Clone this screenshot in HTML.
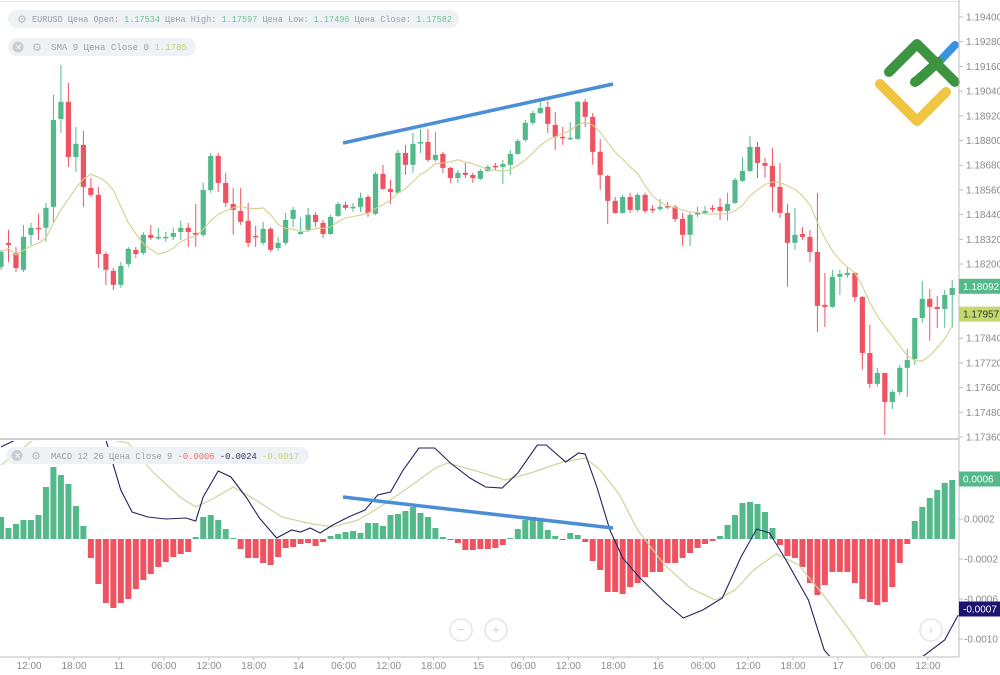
<!DOCTYPE html>
<html><head><meta charset="utf-8"><title>EURUSD chart</title>
<style>
html,body{margin:0;padding:0;background:#fff;width:1000px;height:675px;overflow:hidden;}
svg{display:block;font-family:"Liberation Sans",sans-serif;}
</style></head>
<body>
<svg id="chart" width="1000" height="675" viewBox="0 0 1000 675" xmlns="http://www.w3.org/2000/svg">
  <rect x="0" y="0" width="1000" height="675" fill="#fff"/>
  <line x1="0" y1="1.5" x2="959" y2="1.5" stroke="#e3e3e3" stroke-width="1"/>
  <g id="priceAxis"></g>
  <g id="macdAxis"></g>
  <g id="timeAxis"></g>
  <defs>
    <clipPath id="priceClip"><rect x="0" y="3" width="959" height="435"/></clipPath>
    <clipPath id="macdClip"><rect x="0" y="441" width="959" height="215"/></clipPath>
  </defs>
  <g id="logo">
    <polyline points="880,84 917,121 946,92" fill="none" stroke="#f0c542" stroke-width="10" stroke-linecap="round" stroke-linejoin="round"/>
    <line x1="938" y1="63" x2="955" y2="45" stroke="#3a93e0" stroke-width="8" stroke-linecap="round"/>
    <polyline points="889,72 917,44 955,82" fill="none" stroke="#3c9440" stroke-width="10" stroke-linecap="round" stroke-linejoin="round"/>
    <polyline points="915,82 918,80 938,62" fill="none" stroke="#3c9440" stroke-width="10" stroke-linecap="round"/>
  </g>
  <g clip-path="url(#priceClip)">
    <g id="candles"></g>
    <path id="smaLine" fill="none" stroke="#d6cf8c" stroke-width="1.1"/>
  </g>
  <g clip-path="url(#macdClip)">
    <g id="hist"></g>
    <path id="signalLine" fill="none" stroke="#cfd49a" stroke-width="1.2"/>
    <path id="macdLine" fill="none" stroke="#23235e" stroke-width="1.1"/>
  </g>
  <line x1="343" y1="143" x2="613" y2="84" stroke="#4a8fd6" stroke-width="3.5"/>
  <line x1="343" y1="497" x2="613" y2="528" stroke="#4a8fd6" stroke-width="3.5"/>
  <line x1="0" y1="439" x2="959" y2="439" stroke="#cfcfcf" stroke-width="2"/>
  <line x1="959" y1="0" x2="959" y2="657" stroke="#bdbdbd" stroke-width="1"/>
  <line x1="0" y1="657" x2="959" y2="657" stroke="#bdbdbd" stroke-width="1"/>

  <g>
    <rect x="8" y="10" width="451" height="18" rx="9" fill="#eff2f5"/>
    <text x="17" y="23" font-size="11" fill="#bbb">⚙</text>
    <text x="32" y="22" font-size="9.5" fill="#9aa0a6" textLength="420" lengthAdjust="spacingAndGlyphs" font-family="'Liberation Mono','Noto Sans CJK SC',monospace">EURUSD Цена Open: <tspan fill="#6fbf95">1.17534</tspan> Цена High: <tspan fill="#6fbf95">1.17597</tspan> Цена Low: <tspan fill="#6fbf95">1.17496</tspan> Цена Close: <tspan fill="#6fbf95">1.17582</tspan></text>
  </g>
  <g>
    <rect x="8" y="38" width="188" height="18" rx="9" fill="#eff2f5"/>
    <circle cx="18" cy="47" r="5.5" fill="#c9cdd1"/>
    <text x="15.2" y="50" font-size="8" fill="#fff">✕</text>
    <text x="32" y="51" font-size="11" fill="#bbb">⚙</text>
    <text x="51" y="50" font-size="9.5" fill="#9aa0a6" textLength="136" lengthAdjust="spacingAndGlyphs" font-family="'Liberation Mono','Noto Sans CJK SC',monospace">SMA 9 Цена Close 0  <tspan fill="#c5d36c">1.1785</tspan></text>
  </g>
  <g>
    <rect x="6" y="447" width="303" height="17" rx="8.5" fill="#eff2f5"/>
    <circle cx="17" cy="455.5" r="5.5" fill="#c9cdd1"/>
    <text x="14.2" y="458.5" font-size="8" fill="#fff">✕</text>
    <text x="31" y="459.5" font-size="11" fill="#bbb">⚙</text>
    <text x="51" y="459" font-size="9.5" fill="#9aa0a6" textLength="248" lengthAdjust="spacingAndGlyphs" font-family="'Liberation Mono','Noto Sans CJK SC',monospace">MACD 12 26 Цена Close 9  <tspan fill="#e57373">-0.0006</tspan> <tspan fill="#33335f">-0.0024</tspan> <tspan fill="#c5d36c">-0.0017</tspan></text>
  </g>

  <g><circle cx="461" cy="630" r="11" fill="#fff" stroke="#e4e4e4" stroke-width="1.5"/><text x="461" y="634" font-size="13" fill="#cfcfcf" text-anchor="middle">−</text></g>
  <g><circle cx="496" cy="630" r="11" fill="#fff" stroke="#e4e4e4" stroke-width="1.5"/><text x="496" y="634" font-size="13" fill="#cfcfcf" text-anchor="middle">+</text></g>
  <g><circle cx="931" cy="630" r="11" fill="#fff" stroke="#e4e4e4" stroke-width="1.5"/><text x="931" y="634" font-size="12" fill="#cfcfcf" text-anchor="middle">›</text></g>

  <g id="markers"></g>
</svg>
<script>
const openP=[1.18186,1.18303,1.18254,1.18172,1.18342,1.18376,1.18376,1.18478,1.18905,1.18988,1.18720,1.18779,1.18570,1.18536,1.18249,1.18167,1.18099,1.18201,1.18269,1.18254,1.18342,1.18327,1.18327,1.18332,1.18356,1.18376,1.18351,1.18342,1.18560,1.18725,1.18594,1.18492,1.18458,1.18410,1.18337,1.18303,1.18371,1.18278,1.18303,1.18419,1.18346,1.18366,1.18439,1.18400,1.18346,1.18434,1.18487,1.18473,1.18478,1.18526,1.18444,1.18638,1.18565,1.18546,1.18740,1.18682,1.18788,1.18793,1.18706,1.18735,1.18667,1.18618,1.18643,1.18633,1.18614,1.18652,1.18677,1.18672,1.18682,1.18735,1.18803,1.18886,1.18934,1.18963,1.18876,1.18818,1.18808,1.18808,1.18988,1.18915,1.18745,1.18628,1.18507,1.18448,1.18526,1.18463,1.18536,1.18468,1.18468,1.18482,1.18478,1.18419,1.18342,1.18444,1.18448,1.18473,1.18478,1.18458,1.18497,1.18604,1.18652,1.18769,1.18691,1.18677,1.18575,1.18448,1.18303,1.18346,1.18332,1.18259,1.18002,1.17992,1.18138,1.18147,1.18157,1.18040,1.17768,1.17618,1.17671,1.17530,1.17579,1.17696,1.17739,1.17938,1.18031,1.17992,1.17982,1.18050];
const highP=[1.18269,1.18366,1.18283,1.18390,1.18400,1.18444,1.18497,1.19022,1.19167,1.19080,1.18866,1.18847,1.18618,1.18575,1.18259,1.18181,1.18210,1.18283,1.18283,1.18356,1.18390,1.18376,1.18356,1.18376,1.18410,1.18400,1.18492,1.18594,1.18740,1.18740,1.18643,1.18570,1.18570,1.18497,1.18385,1.18405,1.18380,1.18332,1.18448,1.18478,1.18429,1.18473,1.18453,1.18414,1.18439,1.18502,1.18502,1.18497,1.18546,1.18536,1.18648,1.18682,1.18609,1.18754,1.18779,1.18837,1.18856,1.18856,1.18842,1.18745,1.18672,1.18657,1.18691,1.18643,1.18662,1.18682,1.18691,1.18706,1.18754,1.18808,1.18900,1.18944,1.18988,1.18992,1.18939,1.18866,1.18890,1.18992,1.19002,1.18934,1.18808,1.18633,1.18526,1.18536,1.18546,1.18546,1.18546,1.18487,1.18516,1.18502,1.18487,1.18448,1.18448,1.18478,1.18482,1.18487,1.18521,1.18546,1.18618,1.18720,1.18822,1.18793,1.18716,1.18764,1.18691,1.18492,1.18473,1.18380,1.18366,1.18546,1.18157,1.18172,1.18172,1.18186,1.18162,1.18045,1.17904,1.17696,1.17671,1.17589,1.17710,1.17788,1.17938,1.18118,1.18079,1.18045,1.18074,1.18123];
const lowP=[1.18172,1.18210,1.18162,1.18162,1.18293,1.18317,1.18308,1.18400,1.18837,1.18672,1.18648,1.18478,1.18526,1.18181,1.18099,1.18074,1.18084,1.18186,1.18230,1.18244,1.18317,1.18317,1.18308,1.18317,1.18317,1.18283,1.18283,1.18332,1.18546,1.18550,1.18478,1.18342,1.18390,1.18283,1.18283,1.18293,1.18259,1.18264,1.18293,1.18380,1.18342,1.18356,1.18380,1.18327,1.18342,1.18429,1.18463,1.18453,1.18453,1.18429,1.18439,1.18560,1.18492,1.18541,1.18633,1.18643,1.18740,1.18696,1.18696,1.18643,1.18594,1.18594,1.18618,1.18594,1.18609,1.18648,1.18657,1.18589,1.18633,1.18730,1.18793,1.18876,1.18929,1.18837,1.18754,1.18779,1.18803,1.18803,1.18866,1.18682,1.18560,1.18395,1.18444,1.18444,1.18448,1.18453,1.18448,1.18448,1.18458,1.18468,1.18405,1.18288,1.18288,1.18429,1.18444,1.18453,1.18414,1.18410,1.18492,1.18599,1.18648,1.18618,1.18618,1.18453,1.18424,1.18089,1.18269,1.18317,1.18210,1.17870,1.17895,1.17987,1.18050,1.18133,1.18016,1.17686,1.17598,1.17603,1.17370,1.17496,1.17564,1.17555,1.17710,1.17914,1.17827,1.17890,1.17890,1.17890];
const closeP=[1.18259,1.18293,1.18181,1.18332,1.18376,1.18371,1.18473,1.18900,1.18988,1.18720,1.18784,1.18575,1.18536,1.18249,1.18172,1.18099,1.18191,1.18274,1.18249,1.18342,1.18327,1.18332,1.18332,1.18351,1.18376,1.18356,1.18342,1.18560,1.18725,1.18594,1.18497,1.18463,1.18405,1.18303,1.18332,1.18371,1.18269,1.18303,1.18414,1.18463,1.18356,1.18439,1.18405,1.18346,1.18429,1.18492,1.18473,1.18478,1.18521,1.18448,1.18638,1.18565,1.18550,1.18740,1.18682,1.18784,1.18793,1.18706,1.18730,1.18667,1.18618,1.18643,1.18633,1.18618,1.18652,1.18672,1.18672,1.18686,1.18735,1.18798,1.18886,1.18934,1.18958,1.18881,1.18818,1.18813,1.18813,1.18988,1.18915,1.18745,1.18633,1.18507,1.18448,1.18526,1.18463,1.18536,1.18458,1.18463,1.18478,1.18478,1.18419,1.18342,1.18439,1.18448,1.18458,1.18468,1.18458,1.18492,1.18609,1.18652,1.18769,1.18691,1.18677,1.18575,1.18448,1.18303,1.18342,1.18332,1.18259,1.17997,1.17992,1.18138,1.18152,1.18157,1.18040,1.17768,1.17618,1.17671,1.17530,1.17579,1.17696,1.17734,1.17938,1.18031,1.17992,1.17982,1.18050,1.18084];
// MACD histogram values in units of 1e-5
const histValues=[22,11,15,19,19,24,52,72,64,55,33,13,-19,-45,-64,-69,-64,-60,-50,-41,-35,-28,-23,-18,-15,-13,2,22,24,19,10,1,-10,-19,-19,-24,-26,-18,-9,-8,-5,-4,-7,-3,3,5,7,8,6,16,16,13,24,25,28,32,26,22,11,2,-1,-4,-11,-11,-10,-10,-9,-6,1,10,19,22,18,9,3,-1,6,4,-3,-22,-31,-53,-53,-55,-48,-44,-38,-33,-33,-24,-24,-19,-14,-9,-5,-2,3,14,24,36,37,35,27,11,-6,-17,-19,-28,-44,-56,-46,-33,-33,-33,-44,-60,-63,-66,-63,-48,-24,-5,18,32,41,49,56,59];
// MACD line sampled: bar index and value (1e-5)
const macdIdx=[0,3,8,14,16,17.5,19.6,22,24.7,26,27,29,30.7,32.8,34.5,36.8,38.8,40,41.3,42.6,44.3,46.4,48.6,50.3,52,53.7,55.8,57.9,60,62.6,64.7,66.9,69,71.6,72.8,75.4,77.1,78,79.6,81.3,83,85.2,88.6,91.1,93.7,96.3,98.8,100.9,102.6,104.8,107.8,109.9,112,116,121,126,127.8];
const macdVals=[92,115,140,99,49,27,22,20,21,18,42,68,62,41,21,1,9,7,11,6,14,22,29,44,47,69,91,91,76,61,52,51,66,94,94,77,86,85,51,9,-19,-38,-63,-79,-71,-59,-18,10,6,-21,-61,-111,-140,-165,-170,-101,-76];
const signalIdx=[0,5,12,17,20.4,23.9,26,28,31,34,37.5,40.9,44.3,47.7,51,54.5,58,59.6,63,67.3,70.7,75,78,80,82.6,85,88.6,92,95.4,98,100.5,103.5,106.5,110,113.3,116,121,127.8];
const signalVals=[74,110,125,96,66,42,32,39,52,39,22,16,12,19,34,52,71,76,69,59,66,77,81,69,44,9,-26,-49,-61,-51,-31,-15,-26,-58,-91,-121,-140,-135];
const priceTicks=[1.19400,1.19280,1.19160,1.19040,1.18920,1.18800,1.18680,1.18560,1.18440,1.18320,1.18200,1.18080,1.17960,1.17840,1.17720,1.17600,1.17480,1.17360];
const macdTicks=[0.0006,0.0002,-0.0002,-0.0006,-0.0010];
const timeLabels=["12:00","18:00","11","06:00","12:00","18:00","14","06:00","12:00","18:00","15","06:00","12:00","18:00","16","06:00","12:00","18:00","17","06:00","12:00"];
const timeLabelIdx=[3.75,9.75,15.75,21.75,27.75,33.75,39.75,45.75,51.75,57.75,63.75,69.75,75.75,81.75,87.75,93.75,99.75,105.75,111.75,117.75,123.75];
const smaPeriod=9;
const lastPrice=1.18092, smaLast=1.17957, macdHistLast=0.0006, macdLast=-0.0007;

const NS="http://www.w3.org/2000/svg";
const xS=i=>1+i*7.49;
const yP=p=>17+(1.19400-p)/(1.19400-1.17360)*420;
const yM=v=>539-v*100000;
const GREEN="#53b98a", RED="#ef5361";
function mk(tag,attrs,parent){const e=document.createElementNS(NS,tag);for(const k in attrs)e.setAttribute(k,attrs[k]);parent.appendChild(e);return e;}

const cg=document.getElementById('candles');
for(let i=0;i<openP.length;i++){
  const up=closeP[i]>=openP[i], col=up?GREEN:RED, x=xS(i);
  const g=mk('g',{},cg);
  
  
  mk('line',{x1:x,x2:x,y1:yP(highP[i]),y2:yP(lowP[i]),stroke:col,'stroke-width':1},g);
  const t=Math.min(yP(openP[i]),yP(closeP[i])), h=Math.max(1.5,Math.abs(yP(openP[i])-yP(closeP[i])));
  mk('rect',{x:x-2.6,y:t,width:5.2,height:h,fill:col},g);
}
let d="";
for(let i=0;i<closeP.length;i++){
  const s=Math.max(0,i-smaPeriod+1);let sum=0;for(let k=s;k<=i;k++)sum+=closeP[k];
  d+=(i?"L":"M")+xS(i).toFixed(1)+","+yP(sum/(i-s+1)).toFixed(1);
}
document.getElementById('smaLine').setAttribute('d',d);

const hg=document.getElementById('hist');
histValues.forEach((v,i)=>{
  const val=v*1e-5, y0=yM(0), y1=yM(val);
  const r=mk('rect',{x:xS(i)-3,y:Math.min(y0,y1),width:6,height:Math.max(1,Math.abs(y1-y0)),fill:v>=0?GREEN:RED},hg);
  
  
});
const clampY=y=>Math.max(436,Math.min(668,y));
function linePath(idx,vals){return idx.map((ix,k)=>(k?"L":"M")+xS(ix).toFixed(1)+","+clampY(yM(vals[k]*1e-5)).toFixed(1)).join("");}
document.getElementById('macdLine').setAttribute('d',linePath(macdIdx,macdVals));
document.getElementById('signalLine').setAttribute('d',linePath(signalIdx,signalVals));

const pa=document.getElementById('priceAxis');
priceTicks.forEach(p=>{
  const y=yP(p);
  mk('line',{x1:959,x2:963,y1:y,y2:y,stroke:'#bdbdbd'},pa);
  const t=mk('text',{x:966,y:y+3.5,'font-size':10,fill:'#8a8a8a'},pa);t.textContent=p.toFixed(5);
  
  
});
const ma=document.getElementById('macdAxis');
macdTicks.forEach(v=>{
  const y=yM(v);
  mk('line',{x1:959,x2:963,y1:y,y2:y,stroke:'#bdbdbd'},ma);
  const t=mk('text',{x:964,y:y+3.5,'font-size':10,fill:'#8a8a8a'},ma);t.textContent=v.toFixed(4);
  
  
});
const ta=document.getElementById('timeAxis');
timeLabels.forEach((l,k)=>{
  const x=xS(timeLabelIdx[k]);
  mk('line',{x1:x,x2:x,y1:657,y2:660,stroke:'#bdbdbd'},ta);
  const t=mk('text',{x:x,y:669,'font-size':10,fill:'#8a8a8a','text-anchor':'middle'},ta);t.textContent=l;
  
  
});
const mg=document.getElementById('markers');
function marker(y,bg,fg,txt,name){
  const g=mk('g',{},mg);
  
  
  mk('rect',{x:959,y:y-7.5,width:41,height:15,fill:bg},g);
  const t=mk('text',{x:963,y:y+3.5,'font-size':10,fill:fg},g);t.textContent=txt;
}
marker(yP(lastPrice),GREEN,'#fff',lastPrice.toFixed(5),'last-price-label');
marker(yP(smaLast),'#c5d86d','#333',smaLast.toFixed(5),'sma-value-label');
marker(yM(macdHistLast),GREEN,'#fff',macdHistLast.toFixed(4),'macd-hist-value-label');
marker(yM(macdLast),'#1c1470','#fff',macdLast.toFixed(4),'macd-value-label');
</script>
</body></html>
